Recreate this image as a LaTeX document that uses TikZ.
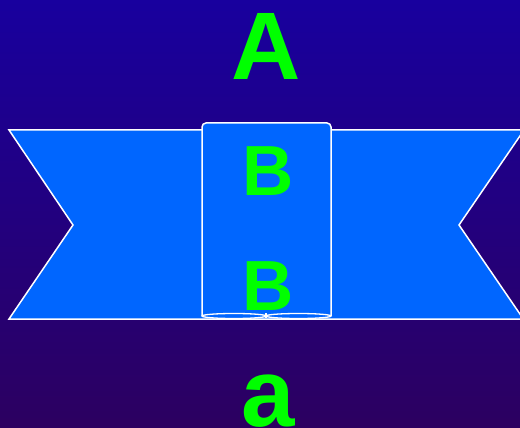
\documentclass[tikz,border=0pt]{standalone}
\usepackage{fontspec}
\setmainfont{Liberation Sans}
\usetikzlibrary{positioning}
\definecolor{bgtop}{RGB}{24,0,158}
\definecolor{bgbottom}{RGB}{44,0,96}
\definecolor{bannerblue}{RGB}{0,102,255}
\definecolor{lettergreen}{RGB}{0,255,0}
\tikzset{
  letter/.style={text=lettergreen, font=\bfseries, anchor=base, inner sep=0pt},
  bannerline/.style={draw=white, fill=bannerblue, line width=1.5pt, line join=miter}
}

\begin{document}
\begin{tikzpicture}[x=1pt, y=-1pt]
\shade[top color=bgtop, bottom color=bgbottom] (0,0) rectangle (520,428);
\useasboundingbox (0,0) rectangle (520,428);
% banner
\draw[bannerline] (9,130)--(522,130)--(522,133)--(459,225)--(522,317)--(522,319)--(9,319)--(73,225)--cycle;
% scroll
\draw[bannerline, rounded corners=4pt] (202,316)--(202,123)--(331,123)--(331,316);
\draw[white, line width=1.3pt, fill=bannerblue] (234,316) ellipse [x radius=32, y radius=2.5];
\draw[white, line width=1.3pt, fill=bannerblue] (298.5,316) ellipse [x radius=32.5, y radius=2.5];
\draw[white, line width=1.3pt] (266,313)--(266,318);
% letters
\node[letter, font=\fontsize{96}{96}\selectfont\bfseries] (topA) at (266,80) {A};
\node[letter, font=\fontsize{71}{71}\selectfont\bfseries] (upperB) at (268,195) {B};
\node[letter, font=\fontsize{71}{71}\selectfont\bfseries] (lowerB) at (268,310) {B};
\node[letter, font=\fontsize{96}{96}\selectfont\bfseries] (bottoma) at (268,426) {a};
\end{tikzpicture}
\end{document}
